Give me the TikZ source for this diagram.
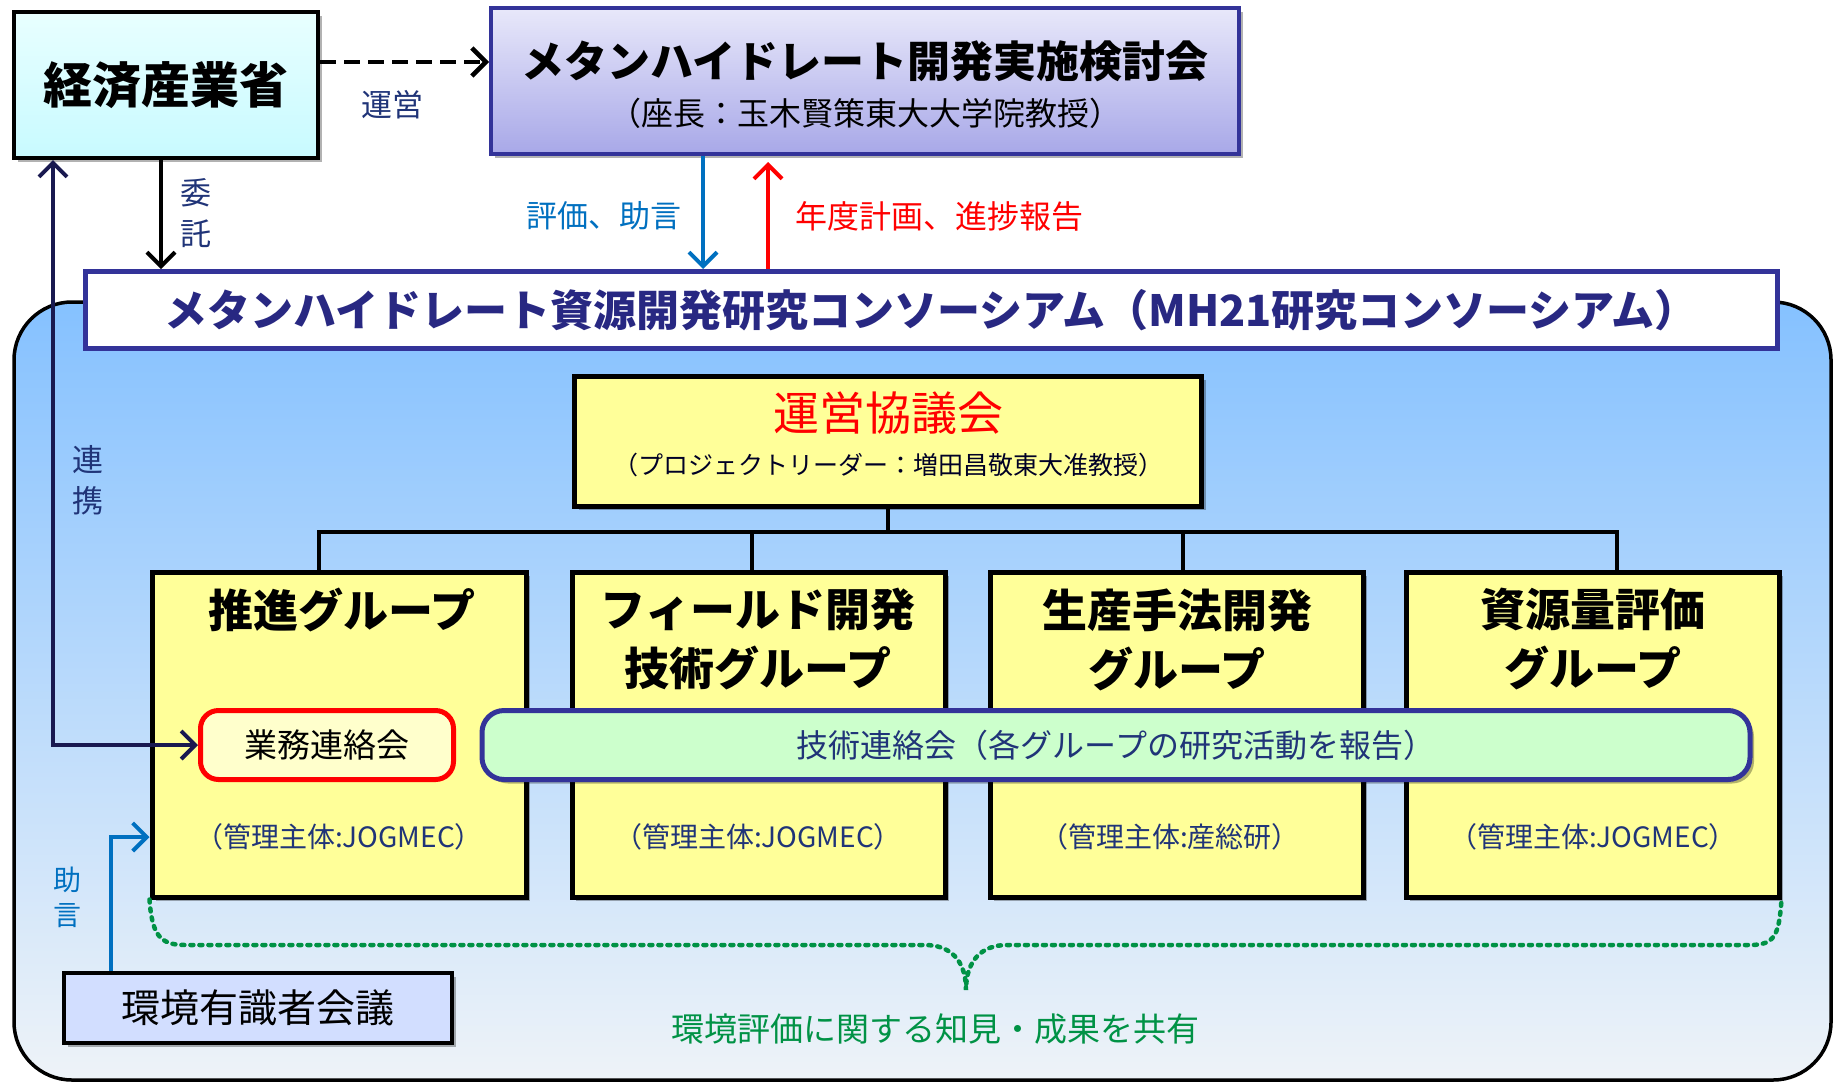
\documentclass[tikz,border=0pt]{standalone}
\usepackage{fontspec}
\setmainfont{Noto Sans CJK JP}
\usetikzlibrary{arrows.meta,shadows,calc}
\definecolor{navytext}{RGB}{32,52,120}
\definecolor{darkline}{RGB}{25,25,80}
\definecolor{bluearrow}{RGB}{0,112,192}
\definecolor{boxborder}{RGB}{51,51,153}
\definecolor{bartext}{RGB}{40,40,130}
\definecolor{skyA}{RGB}{133,193,255}
\definecolor{skyB}{RGB}{165,202,240}
\definecolor{skyC}{RGB}{238,243,248}
\definecolor{cyanA}{RGB}{232,255,255}
\definecolor{cyanB}{RGB}{200,250,255}
\definecolor{lavA}{RGB}{232,232,250}
\definecolor{lavB}{RGB}{168,168,232}
\definecolor{yellowbox}{RGB}{255,255,153}
\definecolor{paleyellow}{RGB}{255,255,204}
\definecolor{palegreen}{RGB}{204,255,204}
\definecolor{periwinkle}{RGB}{210,222,255}
\definecolor{sharegreen}{RGB}{0,146,69}
\tikzset{
  myshadow/.style={drop shadow={shadow xshift=4pt,shadow yshift=-4pt,fill=black,opacity=0.3}},
  tip/.style={-{Straight Barb[length=14pt,width=28pt]}},
  gbox/.style={draw,line width=5pt,fill=yellowbox,minimum width=373pt,minimum height=325pt,inner sep=0pt,myshadow},
  gtitle/.style={font=\fontsize{45}{59}\selectfont\bfseries,align=center,inner sep=0pt},
  mgmt/.style={font=\fontsize{28}{32}\selectfont,text=navytext,inner sep=0pt},
  vlabel/.style={align=center,inner sep=0pt},
  treeline/.style={line width=4pt,draw=black}
}
\begin{document}
\begin{tikzpicture}[x=1pt,y=-1pt]
\useasboundingbox (0,0) rectangle (1833,1082);
\fill[white] (0,0) rectangle (1833,1082);
% consortium region
\path[draw=black,line width=3.5pt,rounded corners=58pt,top color=skyA,middle color=skyB,bottom color=skyC] (14,302) rectangle (1831,1080);

% METI
\node[draw,line width=4pt,minimum width=304pt,minimum height=146pt,top color=cyanA,bottom color=cyanB,inner sep=0pt,myshadow] (meti) at (166,85) {\fontsize{49}{53}\selectfont\bfseries 経済産業省};

% review committee
\node[draw=boxborder,line width=4pt,minimum width=748pt,minimum height=146pt,top color=lavA,bottom color=lavB,inner sep=0pt,myshadow] (kentou) at (865,81) {};
\node[inner sep=0pt] (kentouT) at (865,61) {\fontsize{43}{47}\selectfont\bfseries メタンハイドレート開発実施検討会};
\node[inner sep=0pt] (kentouS) at (865,113) {\fontsize{32}{36}\selectfont （座長：玉木賢策東大大学院教授）};

% dashed arrow
\coordinate (dA) at ([yshift=23pt]meti.east);
\draw[dash pattern=on 16pt off 8pt,line width=4.5pt,tip] (dA) -- (dA -| kentou.west);
\node[inner sep=0pt,text=navytext] (uneiL) at (392,105) {\fontsize{31}{35}\selectfont 運営};

% consortium bar
\node[draw=boxborder,line width=5pt,fill=white,minimum width=1692pt,minimum height=77pt,inner sep=0pt] (bar) at (931,310) {\fontsize{43}{47}\selectfont\bfseries\color{bartext} メタンハイドレート資源開発研究コンソーシアム（MH21研究コンソーシアム）};

% arrows between committee and bar
\coordinate (xb) at (703,0);
\coordinate (xr) at (768,0);
\coordinate (xi) at (161,0);
\draw[bluearrow,line width=4pt,tip] (kentou.south -| xb) -- (bar.north -| xb);
\draw[red,line width=4pt,tip] (bar.north -| xr) -- ([yshift=-6pt]kentou.south -| xr);
\node[inner sep=0pt,text=bluearrow] (hyoka) at (604,216) {\fontsize{31}{35}\selectfont 評価、助言};
\node[inner sep=0pt,text=red] (nendo) at (939,216) {\fontsize{32}{36}\selectfont 年度計画、進捗報告};
\draw[black,line width=4pt,tip] (meti.south -| xi) -- (bar.north -| xi);
\node[vlabel,text=navytext,font=\fontsize{31}{41}\selectfont] (itaku) at (196,213) {委\\託};

% steering council
\node[draw,line width=5pt,fill=yellowbox,minimum width=627pt,minimum height=130pt,inner sep=0pt,myshadow] (unei) at (888,441) {};
\node[inner sep=0pt,text=red] (uneiT) at (888,413) {\fontsize{46}{50}\selectfont 運営協議会};
\node[inner sep=0pt,text=black!85!blue] (uneiS) at (888,465) {\fontsize{25}{29}\selectfont （プロジェクトリーダー：増田昌敬東大准教授）};

% groups
\node[gbox,minimum width=374pt] (g1) at (339,734.5) {};
\node[gbox] (g2) at (758.5,734.5) {};
\node[gbox] (g3) at (1176.5,734.5) {};
\node[gbox] (g4) at (1592.5,734.5) {};
\node[gtitle] (g1t) at (342,610) {推進グループ};
\node[gtitle] (g2t) at (758,639.5) {フィールド開発\\技術グループ};
\node[gtitle] (g3t) at (1177,639.5) {生産手法開発\\グループ};
\node[gtitle] (g4t) at (1593,639.5) {資源量評価\\グループ};
\node[mgmt] (g1m) at (339,837) {（管理主体:JOGMEC）};
\node[mgmt] (g2m) at (758,837) {（管理主体:JOGMEC）};
\node[mgmt] (g3m) at (1170,837) {（管理主体:産総研）};
\node[mgmt] (g4m) at (1593,837) {（管理主体:JOGMEC）};

% tree
\coordinate (bus) at (888,532);
\coordinate (d1) at (319,532);
\coordinate (d2) at (752,532);
\coordinate (d3) at (1183,532);
\coordinate (d4) at (1617,532);
\draw[treeline] (unei.south) -- (bus);
\draw[treeline] (d1 |- g1.north) -- (d1) -- (d4) -- (d4 |- g4.north);
\draw[treeline] (d2) -- (d2 |- g2.north);
\draw[treeline] (d3) -- (d3 |- g3.north);

% liaison meetings
\node[draw=red,line width=5pt,fill=paleyellow,rounded corners=18pt,minimum width=253pt,minimum height=69pt,inner sep=0pt] (gyomu) at (327,745) {\fontsize{33}{37}\selectfont 業務連絡会};
\node[draw=boxborder,line width=5pt,fill=palegreen,rounded corners=22pt,minimum width=1268pt,minimum height=69pt,inner sep=0pt,myshadow] (gijutsu) at (1116,745) {\fontsize{32}{36}\selectfont\color{navytext} 技術連絡会（各グループの研究活動を報告）};

% renkei
\coordinate (lx) at (53,0);
\draw[darkline,line width=4pt,{Straight Barb[length=14pt,width=28pt]}-{Straight Barb[length=14pt,width=28pt]}] (meti.south -| lx) |- (gyomu.west);
\node[vlabel,text=navytext,font=\fontsize{31}{41}\selectfont] (renkei) at (88,480) {連\\携};

% environment experts
\node[draw,line width=4pt,fill=periwinkle,minimum width=388pt,minimum height=70pt,inner sep=0pt,myshadow] (kankyo) at (258,1008) {\fontsize{39}{43}\selectfont 環境有識者会議};
\coordinate (jx) at (111,0);
\coordinate (jy) at (0,837);
\draw[bluearrow,line width=4pt,tip] (kankyo.north -| jx) |- (g1.west |- jy);
\node[vlabel,text=bluearrow,font=\fontsize{28}{35}\selectfont] (jogen) at (67,897) {助\\言};

% shared knowledge brace
\node[inner sep=0pt,text=sharegreen] (share) at (935,1029) {\fontsize{33}{37}\selectfont 環境評価に関する知見・成果を共有};
\draw[sharegreen,line width=4.5pt,dash pattern=on 3pt off 6pt,line cap=round]
  (g1.south west) .. controls (152,935) and (160,945) .. (185,945) -- (925,945)
  .. controls (950,945) and (966,960) .. (966,990)
  .. controls (966,960) and (982,945) .. (1007,945) -- (1750,945)
  .. controls (1775,945) and (1779,935) .. (g4.south east);
\end{tikzpicture}
\end{document}
